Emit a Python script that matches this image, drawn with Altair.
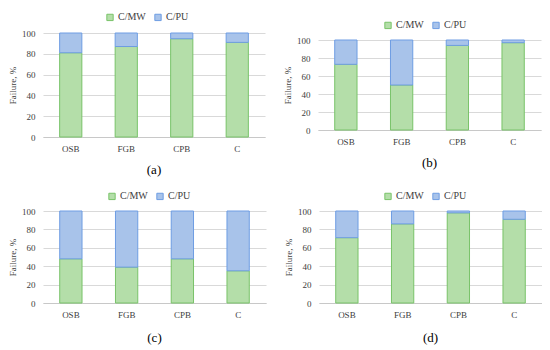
import altair as alt
import pandas as pd

categories = ["OSB", "FGB", "CPB", "C"]
series = ["C/MW", "C/PU"]
a_mw = [81, 87, 94.5, 91]
a_pu = [19, 13, 5.5, 9]
b_mw = [73, 50, 94, 97]
b_pu = [27, 50, 6, 3]
c_mw = [48, 39, 48, 35]
c_pu = [52, 61, 52, 65]
d_mw = [71, 86, 98, 91]
d_pu = [29, 14, 2, 9]
panel_labels = ["(a)", "(b)", "(c)", "(d)"]
y_ticks = [0, 20, 40, 60, 80, 100]

fills = ["#b4dea9", "#a8c3ea"]
strokes = ["#79c369", "#6e9de3"]
FONT = "Liberation Serif"


def df_for(mw, pu):
    rows = []
    for cat, m, p in zip(categories, mw, pu):
        rows.append({"cat": cat, "series": series[0], "value": m, "k": 0})
        rows.append({"cat": cat, "series": series[1], "value": p, "k": 1})
    return pd.DataFrame(rows)


def legend(lx, ly):
    return alt.Legend(
        title=None, orient="none", direction="horizontal",
        legendX=lx, legendY=ly, symbolType="square", symbolSize=40,
        symbolStrokeWidth=1, labelFont=FONT, labelFontSize=10,
        labelColor="#404040", labelOffset=3, columnPadding=6,
    )


def panel(mw, pu, label, w, h, lx, ly, toff):
    data = df_for(mw, pu)
    return alt.Chart(data).mark_bar(strokeWidth=1).encode(
        x=alt.X("cat:N", sort=categories,
                scale=alt.Scale(paddingInner=0.6, paddingOuter=0.3),
                axis=alt.Axis(title=None, labelAngle=0, ticks=False,
                              domainColor="#c8c8c8", labelPadding=7,
                              labelFont=FONT, labelFontSize=9,
                              labelColor="#404040")),
        y=alt.Y("value:Q", stack="zero",
                scale=alt.Scale(domain=[0, 100]),
                axis=alt.Axis(title="Failure, %", values=y_ticks, ticks=False,
                              domain=False, gridColor="#d9d9d9",
                              labelPadding=8, titlePadding=4,
                              labelFont=FONT, labelFontSize=9,
                              labelColor="#404040", titleFont=FONT,
                              titleFontSize=9, titleFontWeight="normal",
                              titleColor="#404040")),
        color=alt.Color("series:N", scale=alt.Scale(domain=series, range=fills),
                        legend=legend(lx, ly)),
        stroke=alt.Stroke("series:N", scale=alt.Scale(domain=series, range=strokes),
                          legend=legend(lx, ly)),
        order=alt.Order("k:Q"),
    ).properties(
        width=w, height=h,
        title=alt.TitleParams(label, orient="bottom", anchor="middle",
                              font=FONT, fontSize=13, fontWeight="normal",
                              color="#000000", offset=toff),
    )


pa = panel(a_mw, a_pu, panel_labels[0], 222, 104, 62, -21, 11)
pb = panel(b_mw, b_pu, panel_labels[1], 223, 90, 65, -20, 11)
pc = panel(c_mw, c_pu, panel_labels[2], 223, 92, 64, -20, 13)
pd_ = panel(d_mw, d_pu, panel_labels[3], 223, 92, 64, -20, 13)


def indep(ch):
    return ch.resolve_scale(color="independent", stroke="independent").resolve_legend(
        color="independent", stroke="independent")


row1 = indep(alt.hconcat(pa, pb, spacing=18, center=True))
row2 = indep(alt.hconcat(pc, pd_, spacing=18, center=True))
chart = indep(alt.vconcat(row1, row2, spacing=14)).properties(
    padding={"top": 4, "left": 0, "right": 0, "bottom": 0}
).configure(font=FONT).configure_view(stroke=None).configure_legend(
    labelFont=FONT, labelFontSize=10
)

chart.save("out.html", embed_options={"renderer": "svg", "actions": False})
